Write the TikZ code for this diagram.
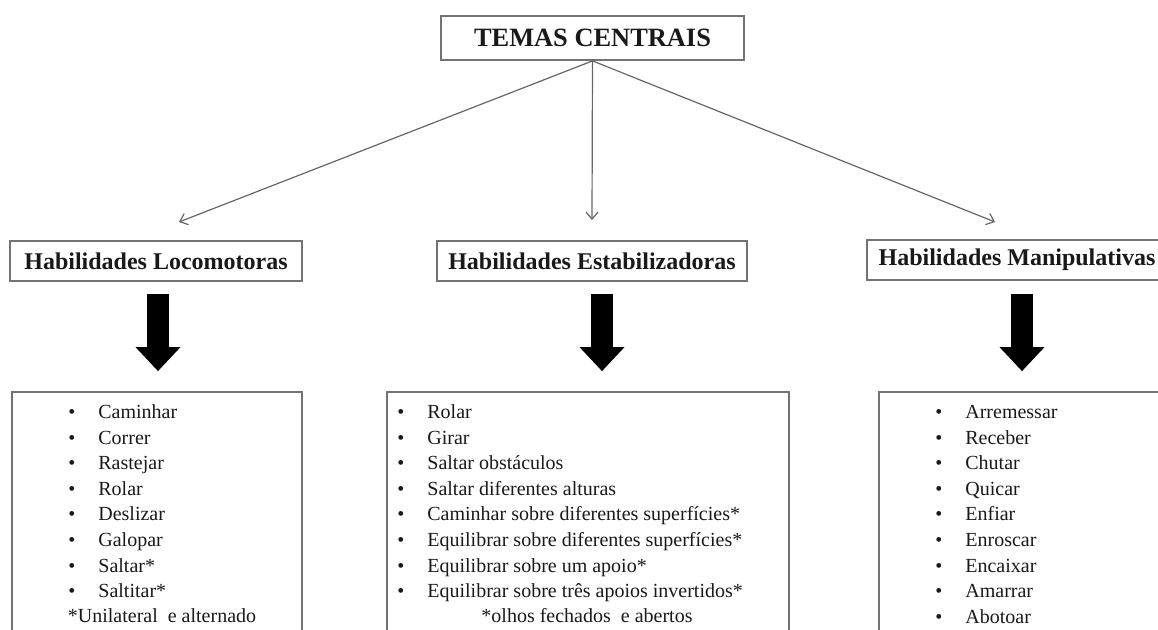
\documentclass[tikz,border=0pt]{standalone}
\usepackage{fontspec}
\setmainfont{Liberation Serif}
\usetikzlibrary{arrows.meta}

\tikzset{
	topbox/.style={rectangle, draw=black!55, line width=0.9pt, minimum width=151.5pt, minimum height=22pt, inner sep=0pt, text=black!90, font=\fontsize{13.2}{15}\selectfont\bfseries},
	headbox/.style={rectangle, draw=black!55, line width=0.9pt, minimum height=20pt, inner sep=0pt, text=black!90, font=\fontsize{12}{14}\selectfont\bfseries},
	listbox/.style={rectangle, draw=black!55, line width=0.9pt, minimum height=130pt, inner sep=0pt},
	thinarrow/.style={-{Straight Barb[length=3.5pt,width=6pt]}, draw=black!60, line width=0.6pt},
	bigarrow/.style={-{Triangle[width=22.5pt,length=12pt,line width=0pt]}, line width=11pt, black},
	listtext/.style={anchor=base west, inner sep=0pt, text=black!90, font=\fontsize{10}{12.8}\selectfont}
}

\begin{document}
\begin{tikzpicture}[x=0.5pt, y=-0.5pt]
		
		\useasboundingbox (0,0) rectangle (1158,630);
		
		%Top box
		\node (temas) at (592.5,38) [topbox]{TEMAS CENTRAIS};
		
		%Arrow ends
		\coordinate (locoTip) at (179,222);
		\coordinate (estabTip) at (592,220);
		\coordinate (manipTip) at (995,222);
		
		\draw[thinarrow] (temas.south) -- (locoTip);
		\draw[thinarrow] (temas.south) -- (estabTip);
		\draw[thinarrow] (temas.south) -- (manipTip);
		
		%Headers
		\node (locoHead) at (156,261) [headbox, minimum width=146pt]{Habilidades Locomotoras};
		\node (estabHead) at (592,261) [headbox, minimum width=155pt]{Habilidades Estabilizadoras};
		\node (manipHead) at (1017,260) [headbox, minimum width=150pt]{Habilidades Manipulativas};
		
		%Lower boxes
		\node (locoList) at (157,522) [listbox, minimum width=145pt]{};
		\node (estabList) at (588,522) [listbox, minimum width=201pt]{};
		\node (manipList) at (1029,522) [listbox, minimum width=150pt]{};
		
		%Big arrows
		\draw[bigarrow] ([xshift=1pt,yshift=-6pt]locoHead.south) -- ([xshift=0.5pt,yshift=10pt]locoList.north);
		\draw[bigarrow] ([xshift=5pt,yshift=-6pt]estabHead.south) -- ([xshift=7pt,yshift=10pt]estabList.north);
		\draw[bigarrow] ([xshift=2.5pt,yshift=-6.5pt]manipHead.south) -- ([xshift=-3.5pt,yshift=10pt]manipList.north);
		
		%Items
		\node (locoItems) at (68,418.5) [listtext]{\begin{tabular}[t]{@{}p{15pt}@{}l@{}}
			\textbullet & Caminhar\\
			\textbullet & Correr\\
			\textbullet & Rastejar\\
			\textbullet & Rolar\\
			\textbullet & Deslizar\\
			\textbullet & Galopar\\
			\textbullet & Saltar*\\
			\textbullet & Saltitar*
		\end{tabular}};
		\node (locoNote) at (162,623) [listtext, anchor=base]{*Unilateral\ \ e alternado};
		
		\node (estabItems) at (397,418.5) [listtext]{\begin{tabular}[t]{@{}p{15pt}@{}l@{}}
			\textbullet & Rolar\\
			\textbullet & Girar\\
			\textbullet & Saltar obstáculos\\
			\textbullet & Saltar diferentes alturas\\
			\textbullet & Caminhar sobre diferentes superfícies*\\
			\textbullet & Equilibrar sobre diferentes superfícies*\\
			\textbullet & Equilibrar sobre um apoio*\\
			\textbullet & Equilibrar sobre três apoios invertidos*
		\end{tabular}};
		\node (estabNote) at (587,623) [listtext, anchor=base]{*olhos fechados\ \ e abertos};
		
		\node (manipItems) at (935,418.5) [listtext]{\begin{tabular}[t]{@{}p{15pt}@{}l@{}}
			\textbullet & Arremessar\\
			\textbullet & Receber\\
			\textbullet & Chutar\\
			\textbullet & Quicar\\
			\textbullet & Enfiar\\
			\textbullet & Enroscar\\
			\textbullet & Encaixar\\
			\textbullet & Amarrar\\
			\textbullet & Abotoar
		\end{tabular}};
		
\end{tikzpicture}
\end{document}
